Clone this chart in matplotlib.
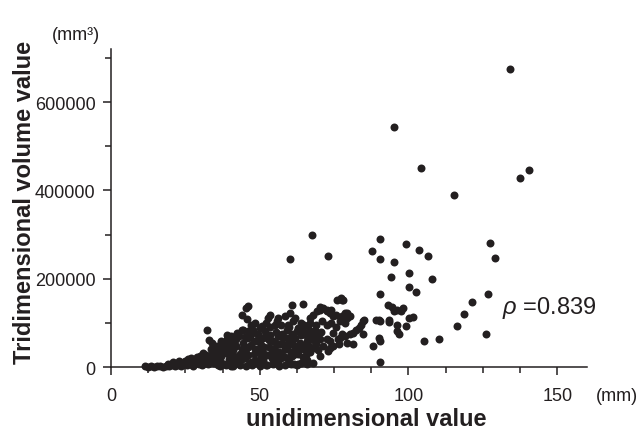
import numpy as np
import matplotlib
matplotlib.use("Agg")
import matplotlib.pyplot as plt
from matplotlib.ticker import MultipleLocator

plt.rcParams['font.family'] = ['Liberation Sans', 'DejaVu Sans']
plt.rcParams['mathtext.fontset'] = 'custom'
plt.rcParams['mathtext.it'] = 'Liberation Sans:italic'
plt.rcParams['mathtext.rm'] = 'Liberation Sans'

INK = '#231f20'

# unidimensional value (mm) vs tridimensional volume (thousand mm3)
# bottom strip, small lesions
x_a = [11.5, 12.5, 13.5, 14.5, 15.5, 16.5, 17.5, 18.5, 19.5, 20.5,
       21.5, 22.5, 23.5, 24.5, 25.5, 26.5, 27.5, 28.5, 29.5, 30.5,
       31.5, 32.5, 33.5, 34.5, 19, 21, 23, 25, 26, 27,
       28, 29, 30, 31, 32, 33, 34, 35, 35.5, 33.5,
       31, 29.5, 24, 22]
y_a = [2, 1, 2, 1, 3, 2, 1, 3, 2, 4,
       2, 5, 3, 6, 4, 8, 3, 10, 6, 5,
       12, 8, 15, 10, 8, 11, 14, 13, 18, 20,
       16, 22, 25, 18, 28, 22, 30, 20, 35, 40,
       32, 12, 9, 6]

# 35 - 51 mm
x_b = [36, 36.5, 37, 37.5, 38, 38.5, 39, 39.5, 40, 40.5,
       41, 41.5, 42, 42.5, 43, 43.5, 44, 44.5, 45, 45.5,
       46, 46.5, 47, 47.5, 48, 48.5, 49, 49.5, 50, 50.5,
       37, 38, 39, 40.5, 41.5, 42.5, 43.5, 44, 45, 46,
       47, 48, 48.5, 49, 49.5, 50, 36, 40, 42, 44,
       46, 34, 32.4, 33, 34.5, 35.5, 37.7, 38.9, 40.5, 42.2,
       44.5, 46.7, 47.8, 49.5, 50.6, 51.7, 44.2, 45.6, 46.1, 45.4,
       52.9, 55.7]
y_b = [5, 15, 25, 42, 8, 32, 52, 18, 60, 3,
       38, 25, 48, 12, 70, 30, 85, 55, 20, 40,
       65, 8, 50, 78, 30, 15, 60, 42, 88, 22,
       60, 45, 72, 15, 55, 78, 5, 42, 68, 28,
       95, 58, 100, 10, 72, 35, 38, 28, 63, 18,
       82, 55, 85, 62, 45, 48, 52, 63, 70, 74,
       85, 70, 85, 74, 92, 81, 117, 109, 139, 133,
       111, 104]

# 50 - 62 mm
x_c = [50.5, 51, 51.5, 52, 52.5, 53, 53.5, 54, 54.5, 55,
       55.5, 56, 56.5, 57, 57.5, 58, 58.5, 59, 59.5, 60,
       60.5, 61, 61.5, 62, 51, 52, 53, 54, 55, 56,
       57, 58, 59, 60, 61, 62, 53.4, 56.2, 58.5, 60.1,
       61.3, 59.6, 62.9, 62.4, 57.9, 54.5, 55.7, 60.1, 61.8, 60.1,
       56.8, 60.7, 64.4, 60.1, 67.5, 73]
y_c = [50, 65, 30, 75, 5, 45, 90, 20, 60, 38,
       80, 12, 52, 95, 28, 68, 42, 85, 18, 58,
       35, 75, 8, 48, 15, 100, 62, 35, 95, 70,
       20, 50, 40, 90, 25, 65, 119, 111, 115, 122,
       104, 96, 89, 81, 66, 40, 25, 22, 40, 52,
       52, 141, 143, 244, 300, 251]

# 62 - 80 mm
x_d = [63, 63.5, 64, 64.6, 64.6, 65, 65.8, 66.3, 66.9, 66.9,
       67.4, 68, 68, 68.5, 69.1, 69.1, 70.2, 70.2, 70.2, 70.2,
       71.3, 71.3, 72.5, 72.5, 72.5, 73, 73.6, 73.6, 74.1, 74.7,
       74.7, 75.8, 75.9, 76.4, 76.9, 77.2, 77.5, 77.5, 78.6, 78.6,
       79.4, 80.3, 79.2, 66, 67, 68, 69, 63, 65, 66,
       64, 62, 67]
y_d = [30, 55, 72, 22, 48, 95, 70, 92, 81, 111,
       63, 44, 119, 85, 70, 126, 63, 130, 25, 135,
       48, 134, 126, 130, 63, 36, 122, 44, 130, 115,
       48, 119, 152, 63, 104, 157, 74, 152, 100, 70,
       111, 115, 122, 15, 35, 10, 52, 8, 40, 58,
       100, 110, 100]

# 77 - 93 mm
x_e = [77, 79.2, 81.4, 80.3, 81.4, 83.4, 84.2, 85, 84.8, 82.5,
       84.8, 77.9, 78.6, 77.5, 87.9, 90.2, 93.5, 89, 90, 88.1]
y_e = [66, 55, 52, 74, 78, 89, 96, 106, 74, 85,
       104, 152, 122, 115, 263, 106, 106, 106, 65, 48]

# large lesions
x_f = [134.1, 95.2, 104.1, 137.5, 140.5, 115.3, 90.4, 99.1, 127.4, 103.6,
       106.4, 90.4, 129, 95.2, 100.2, 94.1, 108, 100.2, 102.5, 90.4,
       126.8, 121.4, 93, 94.5, 96, 97.5, 95, 98, 118.6, 90.4,
       93.5, 100.2, 101.5, 96.3, 99.1, 116.4, 96.3, 96.9, 90.4, 105.2,
       110.2, 126.2, 90.4]
y_f = [674, 544, 451, 428, 447, 389, 289, 278, 281, 266,
       251, 244, 248, 237, 214, 203, 199, 181, 169, 166,
       166, 147, 140, 135, 130, 126, 128, 134, 121, 104,
       102, 112, 114, 96, 92, 92, 81, 74, 59, 59,
       63, 74, 12]

# extra points in the crowded band near the baseline
x_g = [36.5, 38.5, 41, 43, 45.5, 47.5, 50, 52, 54.5, 56.5,
       58.5, 60.5, 62.5, 64, 66, 39, 41, 43, 44.5, 46,
       47, 48.5, 50, 51.5, 52.5, 53.5, 54.5, 55.5, 56.5, 57.5,
       58.5, 59.5, 61, 62, 63.5, 64.5, 65.5, 66.5, 67.5, 68.5,
       69.5, 70.5, 72.5, 73.5, 74.5, 75.5, 76.5, 71, 69, 74]
y_g = [2, 4, 2, 6, 3, 5, 2, 4, 6, 3,
       5, 8, 4, 10, 6, 40, 48, 22, 35, 45,
       12, 40, 62, 45, 28, 72, 15, 55, 35, 75,
       22, 65, 55, 30, 42, 82, 28, 48, 75, 58,
       38, 80, 95, 58, 78, 90, 52, 105, 95, 100]

rho_text = '$\\rho$ =0.839'

x_mm = np.array(x_a + x_b + x_c + x_d + x_e + x_f + x_g)
vol = np.array(y_a + y_b + y_c + y_d + y_e + y_f + y_g) * 1000

fig = plt.figure(figsize=(6.38, 4.31), dpi=100)
ax = fig.add_axes([0.174, 0.146, 0.746, 0.738])

ax.scatter(x_mm, vol, s=33, c=INK, linewidths=0, zorder=3, clip_on=False)

ax.set_xlim(0, 160)
ax.set_ylim(0, 720000)
for s in ['top', 'right']:
    ax.spines[s].set_visible(False)
for s in ['left', 'bottom']:
    ax.spines[s].set_color(INK)
    ax.spines[s].set_linewidth(1.1)

ax.set_xticks([0, 50, 100, 150])
ax.xaxis.set_minor_locator(MultipleLocator(12.5))
ax.set_yticks([0, 200000, 400000, 600000])
ax.yaxis.set_minor_locator(MultipleLocator(100000))
ax.tick_params(which='major', direction='out', length=6, width=1.1, color=INK,
               labelsize=13, labelcolor=INK, pad=5)
ax.tick_params(which='minor', direction='out', length=4, width=1.1, color=INK)
ax.tick_params(axis='x', pad=8)

fig.text(366 / 638, 1 - 420 / 431, 'unidimensional value', ha='center', va='center',
         fontsize=17, fontweight='bold', color=INK)
fig.text(25 / 638, 1 - 202 / 431, 'Tridimensional volume value', ha='center', va='center',
         rotation=90, fontsize=17, fontweight='bold', color=INK)
fig.text(617 / 638, 1 - 397 / 431, '(mm)', ha='center', va='center', fontsize=13, color=INK)
fig.text(76 / 638, 1 - 35 / 431, '(mm\u00b3)', ha='center', va='center', fontsize=13, color=INK)
fig.text(502 / 638, 1 - 308 / 431, rho_text, ha='left', va='center', fontsize=17, color=INK)

fig.savefig('out.png', dpi=100)
